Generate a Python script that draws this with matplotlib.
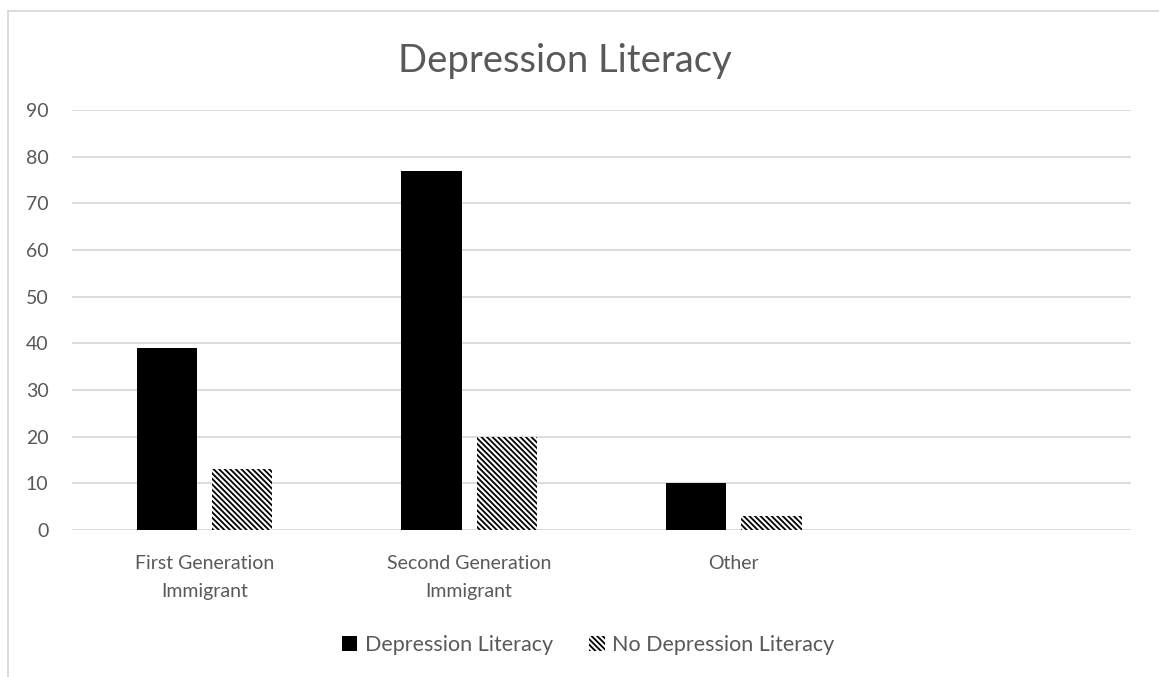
import matplotlib
matplotlib.use("Agg")
import matplotlib.pyplot as plt
import numpy as np
from matplotlib.patches import Patch
from matplotlib.lines import Line2D

categories = ["First Generation\nImmigrant", "Second Generation\nImmigrant", "Other", ""]
literacy = [39, 77, 10, 0]
no_literacy = [13, 20, 3, 0]
y_ticks = [0, 10, 20, 30, 40, 50, 60, 70, 80, 90]

TEXT = "#595959"
GRID = "#D9D9D9"
HATCH = "\\\\\\\\\\\\"

plt.rcParams["font.family"] = ["Lato", "DejaVu Sans"]
plt.rcParams["hatch.linewidth"] = 1.3
plt.rcParams["hatch.color"] = "black"

fig = plt.figure(figsize=(11.59, 6.77), dpi=100)
ax = fig.add_axes([72 / 1159, 1 - 530 / 677, (1131 - 72) / 1159, (530 - 110) / 677])

x = np.arange(len(categories))
bw = 0.227
gap = 0.057
n_real = 3
ax.bar(x[:n_real] - (bw + gap) / 2, literacy[:n_real], width=bw, color="black",
       edgecolor="black", linewidth=0, label="Depression Literacy", zorder=3)
ax.bar(x[:n_real] + (bw + gap) / 2, no_literacy[:n_real], width=bw, color="white",
       edgecolor="black", linewidth=0, hatch=HATCH, label="No Depression Literacy", zorder=3)

ax.set_xlim(-0.5, len(categories) - 0.5)
ax.set_ylim(0, 90)
ax.set_yticks(y_ticks)
ax.set_xticks(x)
ax.set_xticklabels(categories, color=TEXT, fontsize=14, linespacing=1.8)
ax.tick_params(axis="y", length=0, pad=17, labelcolor=TEXT, labelsize=14)
ax.tick_params(axis="x", length=0, pad=18)
ax.grid(axis="y", color=GRID, linewidth=1.3, zorder=0)
for s in ax.spines.values():
    s.set_visible(False)

fig.text(565 / 1159, 1 - 61 / 677, "Depression Literacy", ha="center", va="center",
         fontsize=27.5, color=TEXT)

handles = [Patch(facecolor="black", edgecolor="black", linewidth=0),
           Patch(facecolor="white", edgecolor="black", linewidth=0, hatch=HATCH)]
leg = fig.legend(handles, ["Depression Literacy", "No Depression Literacy"], loc="center",
                 bbox_to_anchor=(588 / 1159, 1 - 645 / 677), ncol=2, frameon=False,
                 fontsize=15.5, handlelength=0.72, handleheight=0.72, handletextpad=0.33,
                 columnspacing=1.7)
for t in leg.get_texts():
    t.set_color(TEXT)

# chart-area border (top and left edges)
fig.add_artist(Line2D([8 / 1159, 1], [1 - 11 / 677, 1 - 11 / 677], transform=fig.transFigure,
                      color=GRID, linewidth=1.3))
fig.add_artist(Line2D([8 / 1159, 8 / 1159], [0, 1 - 11 / 677], transform=fig.transFigure,
                      color=GRID, linewidth=1.3))

fig.savefig("out.png", dpi=100, facecolor="white")
